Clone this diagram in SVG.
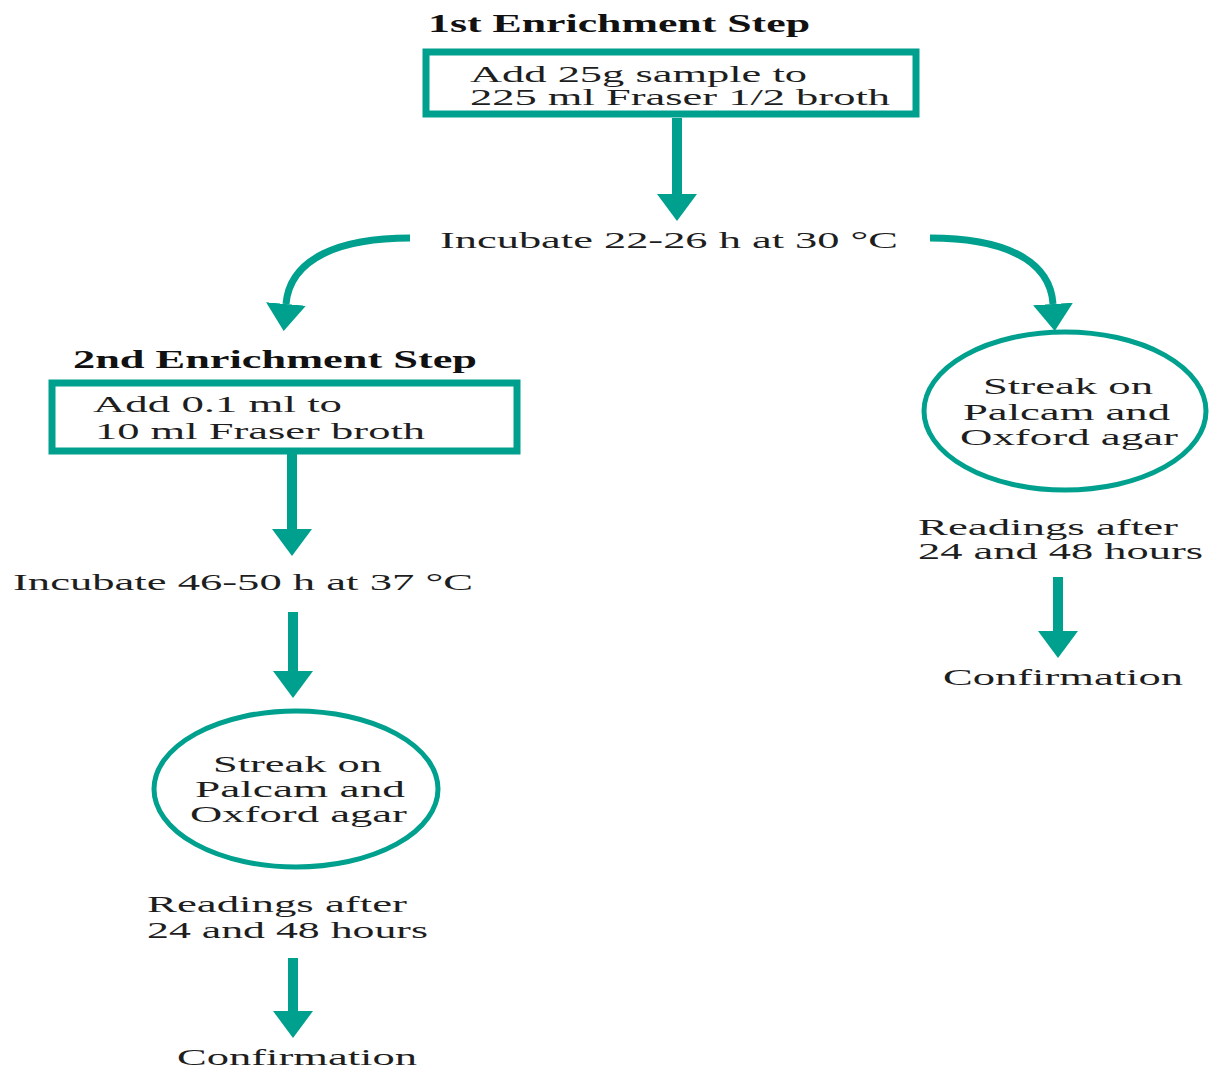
<svg xmlns="http://www.w3.org/2000/svg" width="1209" height="1069" viewBox="0 0 1209 1069">
<defs>
<style>
.t{font-family:"Liberation Serif","Times New Roman",serif;font-size:23px;fill:#1e1e1e;}
.h{font-family:"Liberation Serif","Times New Roman",serif;font-size:26px;font-weight:bold;fill:#111;}
.box{fill:#fff;stroke:#00A08E;stroke-width:7;}
.ell{fill:#fff;stroke:#00A08E;stroke-width:5;}
.arr{fill:none;stroke:#00A08E;stroke-width:10;}
.crv{fill:none;stroke:#00A08E;stroke-width:7;}
</style>
<marker id="ah" markerUnits="userSpaceOnUse" markerWidth="30" markerHeight="44" viewBox="0 -22 30 44" refX="0" refY="0" orient="auto">
<path d="M0,-20 L27,0 L0,20 Z" fill="#00A08E"/>
</marker>
</defs>
<rect width="1209" height="1069" fill="#fff"/>

<g id="connectors">
<line class="arr" x1="677" y1="118" x2="677" y2="194" marker-end="url(#ah)"/>
<path class="crv" d="M410 238 C340 238 290 258 286 304" marker-end="url(#ah)"/>
<path class="crv" d="M930 238 C1000 238 1050 258 1053 304" marker-end="url(#ah)"/>
<line class="arr" x1="292" y1="451" x2="292" y2="529" marker-end="url(#ah)"/>
<line class="arr" x1="293" y1="612" x2="293" y2="671" marker-end="url(#ah)"/>
<line class="arr" x1="293" y1="958" x2="293" y2="1011" marker-end="url(#ah)"/>
<line class="arr" x1="1058" y1="577" x2="1058" y2="631" marker-end="url(#ah)"/>
</g>

<g id="step1-title">
<text class="h" x="428" y="32" textLength="382" lengthAdjust="spacingAndGlyphs">1st Enrichment Step</text>
</g>
<g id="box1">
<rect class="box" x="426" y="52" width="490" height="62"/>
<text class="t" x="470" y="82" textLength="337" lengthAdjust="spacingAndGlyphs">Add 25g sample to</text>
<text class="t" x="470" y="105" textLength="420" lengthAdjust="spacingAndGlyphs">225 ml Fraser 1/2 broth</text>
</g>
<g id="incubate1">
<text class="t" x="440" y="248" textLength="458" lengthAdjust="spacingAndGlyphs">Incubate 22-26 h at 30 °C</text>
</g>
<g id="step2-title">
<text class="h" x="73" y="368" textLength="404" lengthAdjust="spacingAndGlyphs">2nd Enrichment Step</text>
</g>
<g id="box2">
<rect class="box" x="52" y="383" width="465" height="68"/>
<text class="t" x="93" y="412" textLength="249" lengthAdjust="spacingAndGlyphs">Add 0.1 ml to</text>
<text class="t" x="95" y="439" textLength="330" lengthAdjust="spacingAndGlyphs">10 ml Fraser broth</text>
</g>
<g id="incubate2">
<text class="t" x="13" y="590" textLength="460" lengthAdjust="spacingAndGlyphs">Incubate 46-50 h at 37 °C</text>
</g>
<g id="streak-right">
<ellipse class="ell" cx="1065" cy="411" rx="141" ry="79"/>
<text class="t" x="983" y="394" textLength="170" lengthAdjust="spacingAndGlyphs">Streak on</text>
<text class="t" x="963" y="420" textLength="207" lengthAdjust="spacingAndGlyphs">Palcam and</text>
<text class="t" x="960" y="445" textLength="218" lengthAdjust="spacingAndGlyphs">Oxford agar</text>
</g>
<g id="readings-right">
<text class="t" x="918" y="535" textLength="260" lengthAdjust="spacingAndGlyphs">Readings after</text>
<text class="t" x="918" y="559" textLength="285" lengthAdjust="spacingAndGlyphs">24 and 48 hours</text>
</g>
<g id="confirm-right">
<text class="t" x="943" y="685" textLength="240" lengthAdjust="spacingAndGlyphs">Confirmation</text>
</g>
<g id="streak-left">
<ellipse class="ell" cx="296" cy="789" rx="142" ry="78"/>
<text class="t" x="213" y="772" textLength="169" lengthAdjust="spacingAndGlyphs">Streak on</text>
<text class="t" x="195" y="797" textLength="210" lengthAdjust="spacingAndGlyphs">Palcam and</text>
<text class="t" x="190" y="822" textLength="217" lengthAdjust="spacingAndGlyphs">Oxford agar</text>
</g>
<g id="readings-left">
<text class="t" x="147" y="912" textLength="260" lengthAdjust="spacingAndGlyphs">Readings after</text>
<text class="t" x="147" y="938" textLength="281" lengthAdjust="spacingAndGlyphs">24 and 48 hours</text>
</g>
<g id="confirm-left">
<text class="t" x="177" y="1065" textLength="240" lengthAdjust="spacingAndGlyphs">Confirmation</text>
</g>
</svg>
